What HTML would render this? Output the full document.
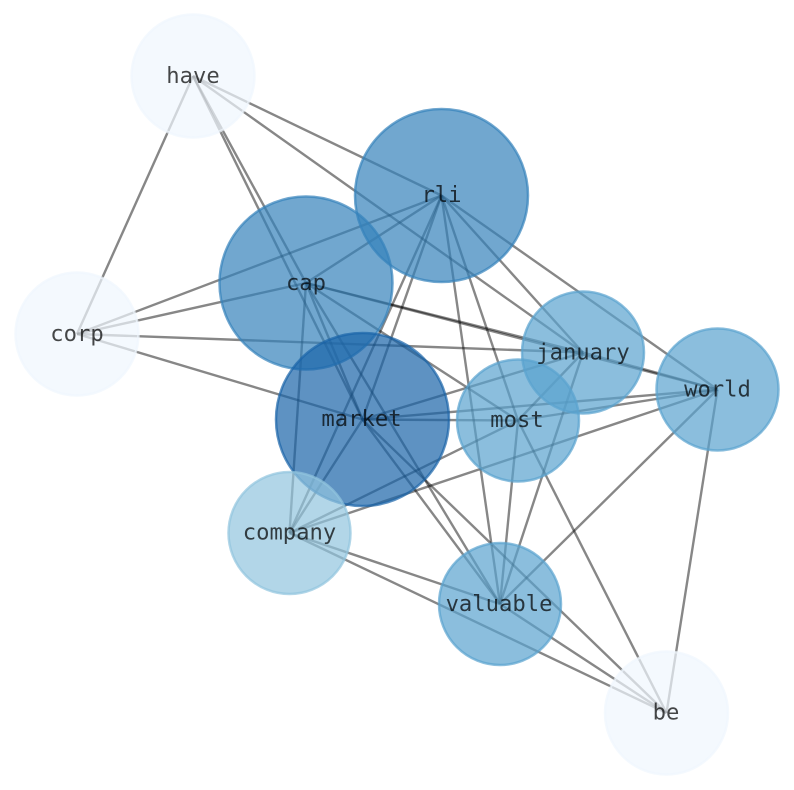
<!DOCTYPE html>
<html><head><meta charset="utf-8"><style>html,body{margin:0;padding:0;background:#fff}svg{display:block}
text{font-family:"DejaVu Sans Mono","Liberation Mono",monospace;font-size:22.2px;text-anchor:middle;fill:#000;fill-opacity:.72}
line{stroke:#000;stroke-opacity:.47;stroke-width:2.4}</style></head><body>
<svg xmlns="http://www.w3.org/2000/svg" width="794" height="790" viewBox="0 0 794 790">
<rect width="794" height="790" fill="#fff"/>
<!-- have -->
<line x1="193" y1="76" x2="77" y2="334"/>
<line x1="193" y1="76" x2="306" y2="283"/>
<line x1="193" y1="76" x2="362.5" y2="419.5"/>
<line x1="193" y1="76" x2="441.5" y2="195.5"/>
<line x1="193" y1="76" x2="583" y2="352.5"/>
<!-- corp -->
<line x1="77" y1="334" x2="441.5" y2="195.5"/>
<line x1="77" y1="334" x2="306" y2="283"/>
<line x1="77" y1="334" x2="583" y2="352.5"/>
<line x1="77" y1="334" x2="362.5" y2="419.5"/>
<!-- rli -->
<line x1="441.5" y1="195.5" x2="306" y2="283"/>
<line x1="441.5" y1="195.5" x2="362.5" y2="419.5"/>
<line x1="441.5" y1="195.5" x2="289.5" y2="533"/>
<line x1="441.5" y1="195.5" x2="500" y2="604"/>
<line x1="441.5" y1="195.5" x2="518" y2="420.5"/>
<line x1="441.5" y1="195.5" x2="583" y2="352.5"/>
<line x1="441.5" y1="195.5" x2="717.5" y2="389.5"/>
<!-- cap -->
<line x1="306" y1="283" x2="362.5" y2="419.5"/>
<line x1="306" y1="283" x2="583" y2="352.5"/>
<line x1="306" y1="283" x2="717.5" y2="389.5"/>
<line x1="306" y1="283" x2="518" y2="420.5"/>
<line x1="306" y1="283" x2="289.5" y2="533"/>
<line x1="306" y1="283" x2="500" y2="604"/>
<!-- january -->
<line x1="583" y1="352.5" x2="717.5" y2="389.5"/>
<line x1="583" y1="352.5" x2="362.5" y2="419.5"/>
<line x1="583" y1="352.5" x2="518" y2="420.5"/>
<line x1="583" y1="352.5" x2="500" y2="604"/>
<!-- world -->
<line x1="717.5" y1="389.5" x2="362.5" y2="419.5"/>
<line x1="717.5" y1="389.5" x2="518" y2="420.5"/>
<line x1="717.5" y1="389.5" x2="289.5" y2="533"/>
<line x1="717.5" y1="389.5" x2="500" y2="604"/>
<line x1="717.5" y1="389.5" x2="666.5" y2="713"/>
<!-- market -->
<line x1="362.5" y1="419.5" x2="518" y2="420.5"/>
<line x1="362.5" y1="419.5" x2="289.5" y2="533"/>
<line x1="362.5" y1="419.5" x2="500" y2="604"/>
<line x1="362.5" y1="419.5" x2="666.5" y2="713"/>
<!-- most -->
<line x1="518" y1="420.5" x2="289.5" y2="533"/>
<line x1="518" y1="420.5" x2="500" y2="604"/>
<line x1="518" y1="420.5" x2="666.5" y2="713"/>
<!-- company -->
<line x1="289.5" y1="533" x2="500" y2="604"/>
<line x1="289.5" y1="533" x2="666.5" y2="713"/>
<!-- valuable -->
<line x1="500" y1="604" x2="666.5" y2="713"/>
<!-- nodes -->
<g stroke-width="2.5">
<circle cx="193" cy="76" r="61.5" fill="#f0f6fd" fill-opacity=".7" stroke="#f0f6fd" stroke-opacity=".7"/>
<circle cx="77" cy="334" r="61.5" fill="#f0f6fd" fill-opacity=".7" stroke="#f0f6fd" stroke-opacity=".7"/>
<circle cx="666.5" cy="713" r="61.5" fill="#f0f6fd" fill-opacity=".7" stroke="#f0f6fd" stroke-opacity=".7"/>
<circle cx="441.5" cy="195.5" r="86.5" fill="#3482ba" fill-opacity=".7" stroke="#3482ba" stroke-opacity=".7"/>
<circle cx="306" cy="283" r="86.5" fill="#3482ba" fill-opacity=".7" stroke="#3482ba" stroke-opacity=".7"/>
<circle cx="362.5" cy="419.5" r="86.5" fill="#1a64a8" fill-opacity=".7" stroke="#1a64a8" stroke-opacity=".7"/>
<circle cx="583" cy="352.5" r="61" fill="#5aa3cf" fill-opacity=".7" stroke="#5aa3cf" stroke-opacity=".7"/>
<circle cx="717.5" cy="389.5" r="61" fill="#5aa3cf" fill-opacity=".7" stroke="#5aa3cf" stroke-opacity=".7"/>
<circle cx="518" cy="420.5" r="61" fill="#5aa3cf" fill-opacity=".7" stroke="#5aa3cf" stroke-opacity=".7"/>
<circle cx="500" cy="604" r="61" fill="#5aa3cf" fill-opacity=".7" stroke="#5aa3cf" stroke-opacity=".7"/>
<circle cx="289.5" cy="533" r="61" fill="#92c4de" fill-opacity=".7" stroke="#92c4de" stroke-opacity=".7"/>
</g>
<!-- labels -->
<text x="193" y="83">have</text>
<text x="441.5" y="202">rli</text>
<text x="306" y="290">cap</text>
<text x="77" y="341">corp</text>
<text x="583" y="359.5">january</text>
<text x="717.5" y="396.5">world</text>
<text x="361.5" y="426">market</text>
<text x="517" y="427">most</text>
<text x="289.5" y="539.5">company</text>
<text x="499" y="611">valuable</text>
<text x="666" y="719.5">be</text>
</svg>
</body></html>
